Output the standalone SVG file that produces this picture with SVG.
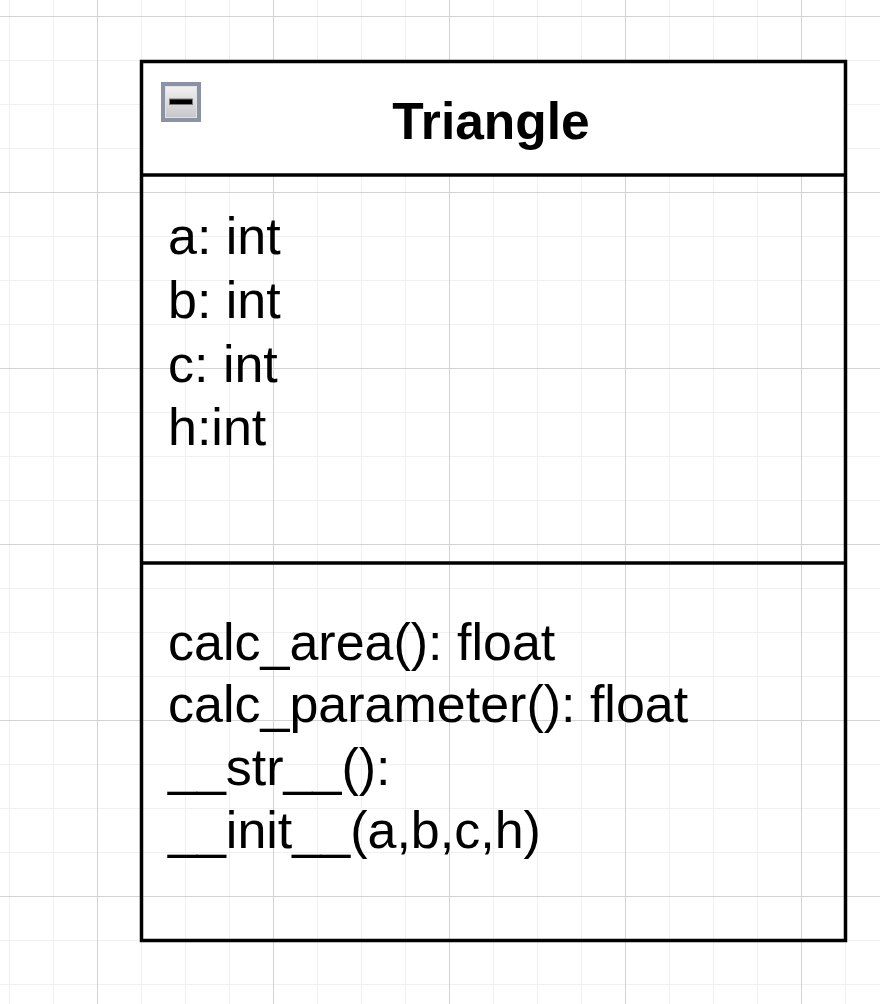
<svg xmlns="http://www.w3.org/2000/svg" width="880" height="1004" viewBox="0 0 880 1004">
  <defs>
    <pattern id="minor" x="9" y="16" width="44" height="44" patternUnits="userSpaceOnUse">
      <path d="M0.5 0 V44 M0 0.5 H44" stroke="#f0f0f0" stroke-width="1" fill="none"/>
    </pattern>
    <pattern id="major" x="97" y="16" width="176" height="176" patternUnits="userSpaceOnUse">
      <path d="M0.5 0 V176 M0 0.5 H176" stroke="#d3d3d3" stroke-width="1" fill="none"/>
    </pattern>
    <linearGradient id="iconGrad" x1="0" y1="0" x2="0" y2="1">
      <stop offset="0" stop-color="#f4f4f4"/>
      <stop offset="1" stop-color="#c4c4c8"/>
    </linearGradient>
    <style>
      .border { fill: none; stroke: #000; stroke-width: 3.5; }
      .txt { font-family: "Liberation Sans", Arial, sans-serif; font-size: 52px; fill: #000; }
      .title { font-family: "Liberation Sans", Arial, sans-serif; font-size: 51.5px; font-weight: bold; fill: #000; }
    </style>
  </defs>
  <rect width="880" height="1004" fill="#ffffff"/>
  <rect width="880" height="1004" fill="url(#minor)"/>
  <rect width="880" height="1004" fill="url(#major)"/>

  <g id="triangle-class">
    <rect x="141.5" y="61.5" width="704" height="113.5" fill="#ffffff"/>
    <rect class="border" x="141.5" y="61.5" width="704" height="879"/>
    <line class="border" x1="141.5" y1="175" x2="845.5" y2="175"/>
    <line class="border" x1="141.5" y1="563" x2="845.5" y2="563"/>

    <g id="collapse-icon">
      <rect x="163" y="84" width="36" height="36" fill="url(#iconGrad)" stroke="#8a92a4" stroke-width="4"/>
      <rect x="165.5" y="86.5" width="31" height="31" fill="none" stroke="#e2e2e6" stroke-width="1"/>
      <rect x="169.5" y="99" width="23" height="5.5" fill="#000" stroke="#777" stroke-width="1"/>
    </g>

    <text class="title" x="491" y="139" text-anchor="middle">Triangle</text>

    <g id="attributes">
      <text class="txt" x="168" y="254">a: int</text>
      <text class="txt" x="168" y="318">b: int</text>
      <text class="txt" x="168" y="382">c: int</text>
      <text class="txt" x="168" y="445">h:int</text>
    </g>

    <g id="methods">
      <text class="txt" x="168" y="660">calc_area(): float</text>
      <text class="txt" x="168" y="722">calc_parameter(): float</text>
      <text class="txt" x="168" y="785">__str__():</text>
      <text class="txt" x="168" y="848">__init__(a,b,c,h)</text>
    </g>
  </g>
  <g id="connectors"/>
</svg>
